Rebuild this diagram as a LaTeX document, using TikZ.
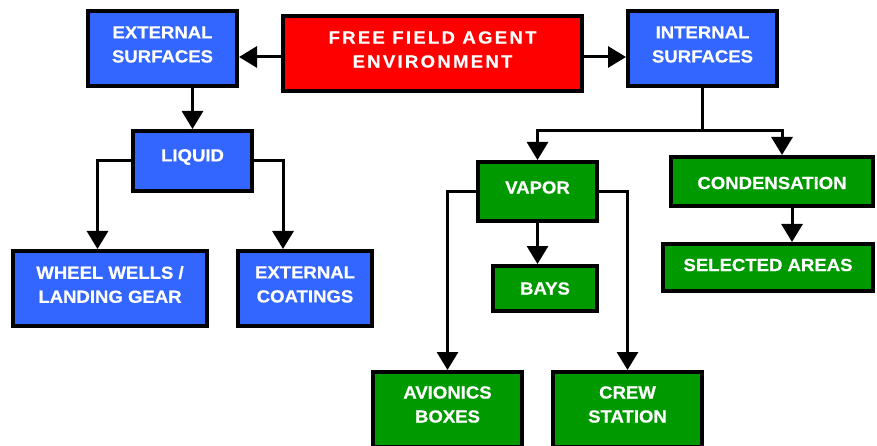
\documentclass[tikz,border=0pt]{standalone}
\usepackage{fontspec}
\setmainfont{Liberation Sans}[FakeStretch=1.06,BoldFeatures={FakeBold=0.6}]
\newfontfamily\spacedfont{Liberation Sans}[LetterSpace=13,FakeStretch=1.06,BoldFeatures={FakeBold=0.6}]
\usetikzlibrary{arrows.meta}
\definecolor{boxblue}{RGB}{51,102,255}
\definecolor{boxred}{RGB}{255,0,0}
\definecolor{boxgreen}{RGB}{0,153,0}
\begin{document}
\begin{tikzpicture}[x=1pt,y=-1pt,
  box/.style={draw=black, line width=3.6pt, rectangle, inner sep=0pt},
  bluebox/.style={box, fill=boxblue},
  redbox/.style={box, fill=boxred},
  greenbox/.style={box, fill=boxgreen},
  lbl/.style={text=white, align=center, yshift=4pt,
    font=\fontsize{17.5}{24}\selectfont\bfseries},
  spaced/.style={lbl, font=\fontsize{17.5}{24}\selectfont\spacedfont\bfseries},
  conn/.style={line width=3pt, draw=black},
  arr/.style={conn, -{Triangle[length=18pt,width=21pt]}}]
\useasboundingbox (0,0) rectangle (877,446);

% top row
\node[bluebox, minimum width=149.4pt, minimum height=75.4pt,
  label={[lbl]center:EXTERNAL\\SURFACES}] (ext) at (162.5,48.5) {};
\node[redbox, minimum width=299.4pt, minimum height=75.4pt,
  label={[spaced]center:FREE FIELD AGENT\\ENVIRONMENT}] (env) at (432.5,53.5) {};
\node[bluebox, minimum width=149.4pt, minimum height=75.4pt,
  label={[lbl]center:INTERNAL\\SURFACES}] (int) at (702.5,48.5) {};

% external branch
\node[bluebox, minimum width=119.4pt, minimum height=60.4pt,
  label={[lbl]center:LIQUID}] (liq) at (192.5,161) {};
\node[bluebox, minimum width=194.4pt, minimum height=75.4pt,
  label={[lbl]center:WHEEL WELLS /\\LANDING GEAR}] (wheel) at (110,288.5) {};
\node[bluebox, minimum width=134.4pt, minimum height=75.4pt,
  label={[lbl]center:EXTERNAL\\COATINGS}] (coat) at (305,288.5) {};

% internal branch
\node[greenbox, minimum width=119.4pt, minimum height=59.4pt,
  label={[lbl]center:VAPOR}] (vap) at (537.5,191.5) {};
\node[greenbox, minimum width=202.4pt, minimum height=49.4pt,
  label={[lbl, yshift=-5.5pt]center:CONDENSATION}] (cond) at (772,181.5) {};
\node[greenbox, minimum width=104.4pt, minimum height=45.4pt,
  label={[lbl, yshift=-4pt]center:BAYS}] (bays) at (545,288.5) {};
\node[greenbox, minimum width=210.4pt, minimum height=47.4pt,
  label={[lbl, yshift=-1.5pt]center:SELECTED AREAS}] (sel) at (768,267.5) {};
\node[greenbox, minimum width=149.4pt, minimum height=75.4pt,
  label={[lbl, yshift=1pt]center:AVIONICS\\BOXES}] (avi) at (447.5,409.5) {};
\node[greenbox, minimum width=149.4pt, minimum height=75.4pt,
  label={[lbl, yshift=1pt]center:CREW\\STATION}] (crew) at (627.5,409.5) {};

% connectors from the environment box
\draw[arr] ([yshift=-3.5pt]env.west) coordinate (e1) -- (e1 -| ext.east);
\draw[arr] ([yshift=-3.5pt]env.east) coordinate (e2) -- (e2 -| int.west);

% external surfaces tree
\draw[arr] (ext.south -| liq.north) -- (liq.north);
\draw[arr] (liq.west) -| ([xshift=-12.5pt]wheel.north);
\draw[arr] (liq.east) -| ([xshift=-22pt]coat.north);

% internal surfaces tree
\draw[conn] (int.south) -- ++(0,43) coordinate (fork);
\draw[arr] (fork) -| (vap.north);
\draw[arr] (fork) -| ([xshift=10pt]cond.north);
\draw[arr] (vap.south) -- (vap.south |- bays.north);
\draw[arr] (vap.west) -| (avi.north);
\draw[arr] (vap.east) -| (crew.north);
\draw[arr] ([xshift=20pt]cond.south) coordinate (c1) -- (c1 |- sel.north);
\end{tikzpicture}
\end{document}
